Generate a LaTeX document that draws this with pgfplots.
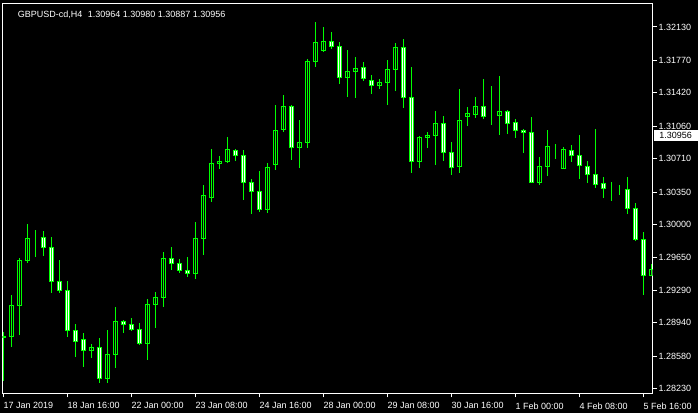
\documentclass[border=0pt]{standalone}
\usepackage{fontspec}
\setmainfont{Liberation Sans}
\usepackage{pgfplots}
\usepackage{pgfplotstable}
\pgfplotsset{compat=1.18}
\definecolor{cgreen}{RGB}{0,255,0}
\pgfplotstableread{
i O H L C
0 1.28777 1.28842 1.28316 1.28798
1 1.28791 1.29240 1.28683 1.29129
2 1.29125 1.29636 1.28809 1.29615
3 1.29610 1.30006 1.29589 1.29852
4 1.29858 1.29941 1.29653 1.29858
5 1.29863 1.29931 1.29664 1.29755
6 1.29755 1.29866 1.29265 1.29388
7 1.29388 1.29618 1.29265 1.29291
8 1.29291 1.29391 1.28791 1.28856
9 1.28860 1.28928 1.28569 1.28741
10 1.28763 1.28831 1.28467 1.28644
11 1.28640 1.28712 1.28564 1.28677
12 1.28677 1.28777 1.28295 1.28342
13 1.28342 1.28863 1.28295 1.28601
14 1.28597 1.29111 1.28457 1.28957
15 1.28957 1.28971 1.28834 1.28920
16 1.28925 1.28992 1.28856 1.28866
17 1.28871 1.28935 1.28701 1.28720
18 1.28715 1.29197 1.28540 1.29140
19 1.29136 1.29273 1.28888 1.29216
20 1.29216 1.29704 1.29114 1.29636
21 1.29636 1.29758 1.29510 1.29578
22 1.29575 1.29629 1.29481 1.29502
23 1.29507 1.29650 1.29438 1.29474
24 1.29470 1.30028 1.29413 1.29852
25 1.29847 1.30426 1.29672 1.30315
26 1.30294 1.30815 1.30246 1.30660
27 1.30660 1.30739 1.30596 1.30685
28 1.30678 1.30944 1.30667 1.30811
29 1.30801 1.30818 1.30688 1.30742
30 1.30747 1.30804 1.30265 1.30451
31 1.30456 1.30488 1.30114 1.30354
32 1.30359 1.30577 1.30135 1.30160
33 1.30160 1.30660 1.30128 1.30617
34 1.30645 1.31289 1.30588 1.31016
35 1.31023 1.31397 1.31001 1.31275
36 1.31278 1.31289 1.30696 1.30833
37 1.30833 1.31127 1.30613 1.30887
38 1.30883 1.31782 1.30825 1.31760
39 1.31756 1.32184 1.31702 1.31965
40 1.31874 1.32130 1.31864 1.31976
41 1.31976 1.32076 1.31896 1.31922
42 1.31922 1.31965 1.31519 1.31588
43 1.31588 1.31882 1.31379 1.31652
44 1.31648 1.31807 1.31368 1.31685
45 1.31696 1.31753 1.31551 1.31573
46 1.31555 1.31609 1.31411 1.31497
47 1.31497 1.31566 1.31465 1.31534
48 1.31529 1.31771 1.31292 1.31674
49 1.31670 1.31954 1.31443 1.31911
50 1.31911 1.32001 1.31253 1.31372
51 1.31372 1.31699 1.30559 1.30682
52 1.30678 1.30955 1.30613 1.30941
53 1.30936 1.30998 1.30825 1.30962
54 1.30958 1.31224 1.30642 1.31092
55 1.31092 1.31170 1.30688 1.30779
56 1.30779 1.30890 1.30534 1.30613
57 1.30624 1.31462 1.30559 1.31124
58 1.31163 1.31267 1.31063 1.31192
59 1.31184 1.31375 1.31152 1.31275
60 1.31275 1.31569 1.31135 1.31163
61 1.31174 1.31494 1.31073 1.31174
62 1.31174 1.31602 1.30966 1.31221
63 1.31221 1.31235 1.30976 1.31087
64 1.31103 1.31135 1.30933 1.31012
65 1.31016 1.31027 1.30768 1.30995
66 1.30995 1.31156 1.30448 1.30456
67 1.30456 1.30728 1.30426 1.30628
68 1.30628 1.31020 1.30527 1.30844
69 1.30850 1.30869 1.30707 1.30850
70 1.30607 1.30833 1.30607 1.30811
71 1.30801 1.30858 1.30671 1.30747
72 1.30747 1.30966 1.30494 1.30639
73 1.30628 1.30685 1.30445 1.30542
74 1.30542 1.31030 1.30397 1.30434
75 1.30445 1.30513 1.30290 1.30391
76 1.30376 1.30459 1.30257 1.30376
77 1.30376 1.30426 1.30322 1.30376
78 1.30380 1.30513 1.30117 1.30175
79 1.30175 1.30232 1.29826 1.29841
80 1.29841 1.29916 1.29244 1.29453
81 1.29453 1.29571 1.29445 1.29510
}\candles
\begin{document}
\begin{tikzpicture}
\useasboundingbox (0,0) rectangle (698bp,413bp);
\fill[black] (0,0) rectangle (698bp,413bp);
\begin{axis}[
  at={(2.5bp,19.5bp)}, anchor=south west,
  scale only axis, width=650bp, height=390bp,
  xmin=-0.125, xmax=81.125, ymin=1.281784, ymax=1.323834,
  ybar stacked, bar width=0.5,
  enlargelimits=false,
  clip mode=individual,
  axis line style={draw=white, line width=1bp},
  tick style={draw=white, line width=1bp},
  major tick length=4bp,
  tick align=outside,
  xtick pos=lower, ytick pos=right,
  xtick={0,8,16,24,32,40,48,56,64,72,80},
  xticklabels={17 Jan 2019,18 Jan 16:00,22 Jan 00:00,23 Jan 08:00,24 Jan 16:00,28 Jan 00:00,29 Jan 08:00,30 Jan 16:00,1 Feb 00:00,4 Feb 08:00,5 Feb 16:00},
  ytick={1.32130,1.31770,1.31420,1.31060,1.30710,1.30350,1.30000,1.29650,1.29290,1.28940,1.28580,1.28230},
  yticklabels={1.32130,1.31770,1.31420,1.31060,1.30710,1.30350,1.30000,1.29650,1.29290,1.28940,1.28580,1.28230},
  tick label style={font=\fontsize{9bp}{10bp}\selectfont, text=white},
  xticklabel style={anchor=north west, inner sep=0pt, yshift=-5bp},
  yticklabel style={anchor=west, inner sep=0pt, xshift=2bp},
]
\addplot[draw=none, fill=none,
  error bars/.cd, y dir=both, y explicit, error mark=none,
  error bar style={draw=cgreen, line width=1bp, solid}]
  table[x=i, y expr={min(\thisrow{O},\thisrow{C})},
        y error plus expr={\thisrow{H}-min(\thisrow{O},\thisrow{C})},
        y error minus expr={min(\thisrow{O},\thisrow{C})-\thisrow{L}}] {\candles};
\addplot[fill=black, draw=cgreen, line width=1bp]
  table[x=i, y expr={max(\thisrow{C}-\thisrow{O},0)}] {\candles};
\addplot[fill=white, draw=cgreen, line width=1bp]
  table[x=i, y expr={max(\thisrow{O}-\thisrow{C},0)}] {\candles};
\node[anchor=west, text=white, inner sep=0pt, font=\fontsize{9bp}{10bp}\selectfont]
  at (rel axis cs:0.0234,0.9712) {GBPUSD-cd,H4\hspace{0.6em}1.30964 1.30980 1.30887 1.30956};
\node[anchor=west, fill=white, text=black, inner sep=0pt, minimum width=44bp, minimum height=11bp, xshift=1bp, font=\fontsize{9bp}{10bp}\selectfont]
  at (axis cs:81.125,1.30956) {1.30956};
\end{axis}
\end{tikzpicture}
\end{document}
